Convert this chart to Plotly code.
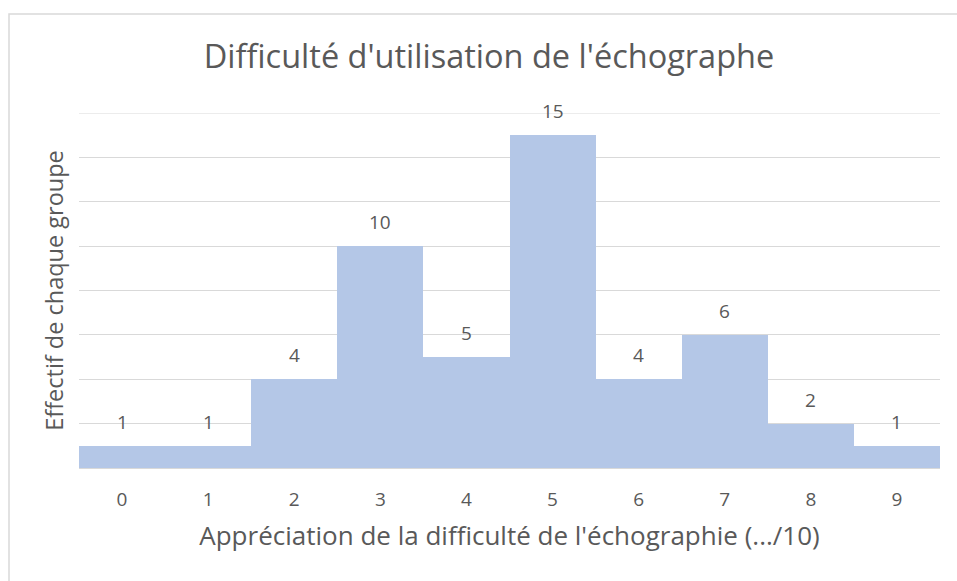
import plotly.graph_objects as go

categories = ["0", "1", "2", "3", "4", "5", "6", "7", "8", "9"]
counts = [1, 1, 4, 10, 5, 15, 4, 6, 2, 1]
y_max = 16

title_text = "Difficulté d'utilisation de l'échographe"
x_title = "Appréciation de la difficulté de l'échographie (.../10)"
y_title = "Effectif de chaque groupe"

grey = "#595959"
grid = "#D9D9D9"
font_family = "Open Sans, Liberation Sans, sans-serif"

fig = go.Figure()
fig.add_trace(go.Bar(
    x=categories, y=counts,
    marker=dict(color="#B4C7E7", line=dict(width=0)),
    width=1.0,
    hoverinfo="x+y",
))

for c, v in zip(categories, counts):
    fig.add_annotation(x=c, y=v, text=str(v), showarrow=False,
                       yanchor="middle", yshift=24,
                       font=dict(size=19, color=grey, family=font_family))

# top gridline (at range edge)
fig.add_shape(type="line", xref="paper", yref="y", x0=0, x1=1, y0=y_max, y1=y_max,
              line=dict(color=grid, width=1), layer="below")

# chart border
fig.add_shape(type="rect", xref="paper", yref="paper",
              x0=-0.0813, x1=1.2, y0=-0.6, y1=1.279,
              line=dict(color=grid, width=1.5), fillcolor="rgba(0,0,0,0)", layer="below")

fig.update_layout(
    width=957, height=581,
    margin=dict(l=79, r=17, t=113, b=113),
    paper_bgcolor="white", plot_bgcolor="white",
    bargap=0,
    showlegend=False,
    title=dict(text=title_text, xref="container", x=489 / 957, xanchor="center",
               y=1 - 57 / 581, yanchor="middle",
               font=dict(size=32.5, color=grey, family=font_family)),
    font=dict(family=font_family, color=grey),
    xaxis=dict(
        type="category",
        showline=False, showgrid=False, zeroline=False,
        ticks="outside", ticklen=14, tickcolor="rgba(0,0,0,0)",
        tickfont=dict(size=19, color=grey),
        title=dict(text=x_title, standoff=16, font=dict(size=26, color=grey)),
    ),
    yaxis=dict(
        range=[0, y_max], dtick=2,
        showticklabels=False, ticks="",
        showgrid=True, gridcolor=grid, gridwidth=1,
        zeroline=True, zerolinecolor=grid,
        title=dict(text=y_title, standoff=7, font=dict(size=23.5, color=grey)),
    ),
)

fig.write_html("out.html", config={"displayModeBar": False},
               post_script="document.body.style.margin='0';document.body.style.overflow='hidden';")
